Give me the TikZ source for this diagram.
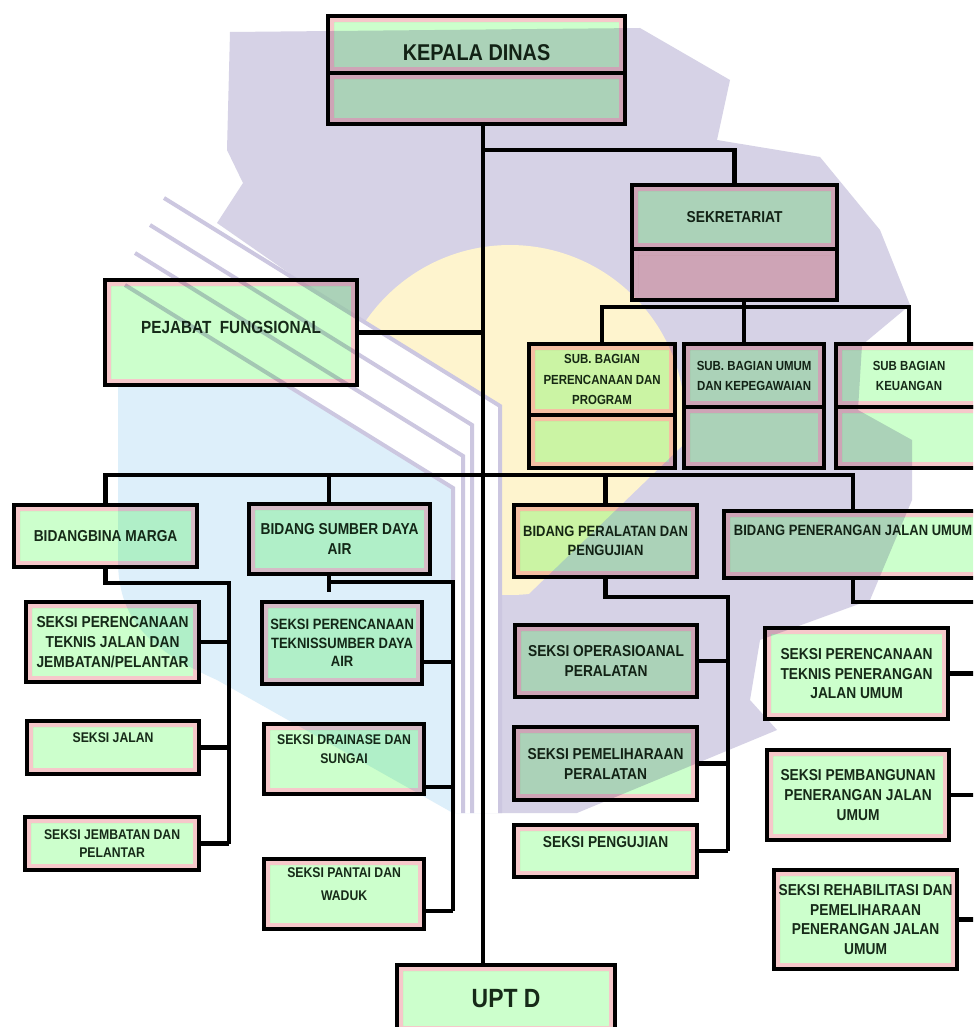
\documentclass[tikz,border=0pt]{standalone}
\usepackage{fontspec}
\setmainfont{Liberation Sans}[FakeStretch=0.87]
\usetikzlibrary{calc}

\definecolor{boxgreen}{HTML}{CCFFCC}
\definecolor{rimpink}{HTML}{F6C8CA}
\definecolor{textdark}{HTML}{1C2A1E}
\definecolor{wmlav}{HTML}{D6D2E6}
\definecolor{wmline}{HTML}{CCC7E0}
\definecolor{wmyel}{HTML}{FEF4CE}
\definecolor{wmblue}{HTML}{DDEFFA}

\tikzset{
  orgbox/.style={draw=black, line width=2.4pt, blend mode=multiply, anchor=north west,
    align=center, inner sep=1pt, text=textdark,
    font=\bfseries\fontsize{9}{11.3}\selectfont,
    path picture={
      \fill[rimpink, even odd rule]
        (path picture bounding box.south west) rectangle (path picture bounding box.north east)
        ([xshift=0.12cm,yshift=0.12cm]path picture bounding box.south west) rectangle
        ([xshift=-0.12cm,yshift=-0.12cm]path picture bounding box.north east);
      \fill[#1]
        ([xshift=0.12cm,yshift=0.12cm]path picture bounding box.south west) rectangle
        ([xshift=-0.12cm,yshift=-0.12cm]path picture bounding box.north east);
    }},
  orgbox/.default=boxgreen,
  subbox/.style={orgbox, font=\bfseries\fontsize{7.5}{11.5}\selectfont},
  smallbox/.style={orgbox, font=\bfseries\fontsize{8}{10.5}\selectfont},
  conn/.style={line width=2.6pt, draw=black},
  wmstroke/.style={wmline, line width=0.08cm}
}

\begin{document}
\begin{tikzpicture}[x=0.02cm, y=-0.02cm]
\useasboundingbox (0,0) rectangle (973,1027);
\clip (0,0) rectangle (973,1027);
\fill[white] (0,0) rectangle (973,1027);

% watermark behind the chart
\fill[wmlav] (230,32) -- (640,28) -- (730,80) -- (717,140) -- (820,157) -- (880,230)
  -- (910,305) -- (862,345) -- (858,410) -- (912,440) -- (912,500) -- (870,600)
  -- (760,640) -- (750,700) -- (777,730) -- (577,813) -- (480,813) -- (480,406)
  -- (217,223) -- (243,183) -- (227,150) -- cycle;
\begin{scope}
  \clip (0,0) -- (1000,0) -- (999,140) -- (419,700) -- (0,700) -- cycle;
  \fill[wmyel] (510,420) circle (3.5cm);
\end{scope}
\fill[wmblue] (118,383) -- (300,383) -- (480,495) -- (480,813) -- (453,813)
  -- (217,680) .. controls (150,650) and (118,620) .. (118,560) -- cycle;
\fill[white] (164,198) -- (500,406) -- (500,813) -- (453,813) -- (453,488) -- (125,285) -- cycle;
\draw[wmstroke] (164,198) -- (500,406) -- (500,813);
\draw[wmstroke] (150,225) -- (472,425) -- (472,813);
\draw[wmstroke] (135,253) -- (463,456) -- (463,813);
\draw[wmstroke] (125,285) -- (453,488) -- (453,813);

% top of the chart
\node[orgbox, minimum width=5.94cm, minimum height=1.14cm, text height=0.63cm, font=\bfseries\fontsize{13}{15}\selectfont] (kadis) at (326,14) {KEPALA DINAS};
\node[orgbox, minimum width=5.94cm, minimum height=1.02cm] (kadisb) at (326,71) {};
\node[orgbox, minimum width=4.10cm, minimum height=1.28cm] (sek) at (630,183) {SEKRETARIAT};
\node[orgbox=rimpink, minimum width=4.10cm, minimum height=1.02cm] (sekb) at (630,247) {};
\node[orgbox, minimum width=5.04cm, minimum height=2.10cm, text depth=0.2cm, font=\bfseries\fontsize{10}{12}\selectfont] (pej) at (103,278) {PEJABAT\ \ FUNGSIONAL};

% sub bagian
\node[subbox, minimum width=2.92cm, minimum height=1.42cm] (subp) at (527,342) {SUB. BAGIAN\\PERENCANAAN DAN\\PROGRAM};
\node[orgbox, minimum width=2.92cm, minimum height=1.06cm] (subpb) at (527,413) {};
\node[subbox, minimum width=2.80cm, minimum height=1.26cm] (subu) at (682,342) {SUB. BAGIAN UMUM\\DAN KEPEGAWAIAN};
\node[orgbox, minimum width=2.80cm, minimum height=1.22cm] (subub) at (682,405) {};
\node[subbox, minimum width=2.92cm, minimum height=1.26cm] (subk) at (834,342) {SUB BAGIAN\\KEUANGAN};
\node[orgbox, minimum width=2.92cm, minimum height=1.22cm] (subkb) at (834,405) {};

% bidang
\node[orgbox, minimum width=3.66cm, minimum height=1.24cm] (bm) at (12,503) {BIDANGBINA MARGA};
\node[orgbox, minimum width=3.62cm, minimum height=1.40cm] (sda) at (247,502) {BIDANG SUMBER DAYA\\AIR};
\node[orgbox, minimum width=3.66cm, minimum height=1.44cm, font=\bfseries\fontsize{8.5}{11}\selectfont] (bpp) at (512,503) {BIDANG PERALATAN DAN\\PENGUJIAN};
\node[orgbox, minimum width=5.16cm, minimum height=1.34cm, text depth=0.58cm, font=\bfseries\fontsize{8.5}{11}\selectfont] (pj) at (722,509) {BIDANG PENERANGAN JALAN UMUM};

% seksi bina marga
\node[orgbox, minimum width=3.46cm, minimum height=1.60cm] (s11) at (24,600) {SEKSI PERENCANAAN\\TEKNIS JALAN DAN\\JEMBATAN/PELANTAR};
\node[smallbox, minimum width=3.44cm, minimum height=1.06cm, text depth=0.42cm] (s12) at (25,719) {SEKSI JALAN};
\node[smallbox, minimum width=3.48cm, minimum height=1.06cm] (s13) at (23,815) {SEKSI JEMBATAN DAN\\PELANTAR};

% seksi sumber daya air
\node[orgbox, minimum width=3.20cm, minimum height=1.64cm, font=\bfseries\fontsize{8.5}{10.5}\selectfont] (s21) at (260,600) {SEKSI PERENCANAAN\\TEKNISSUMBER DAYA\\AIR};
\node[smallbox, minimum width=3.20cm, minimum height=1.40cm, text depth=0.4cm] (s22) at (262,722) {SEKSI DRAINASE DAN\\SUNGAI};
\node[smallbox, minimum width=3.20cm, minimum height=1.40cm, text depth=0.4cm] (s23) at (262,857) {SEKSI PANTAI DAN\\[3pt]WADUK};

% seksi peralatan
\node[orgbox, minimum width=3.64cm, minimum height=1.44cm] (s31) at (513,623) {SEKSI OPERASIOANAL\\PERALATAN};
\node[orgbox, minimum width=3.66cm, minimum height=1.46cm] (s32) at (512,725) {SEKSI PEMELIHARAAN\\PERALATAN};
\node[orgbox, minimum width=3.66cm, minimum height=1.04cm, text depth=0.36cm] (s33) at (512,823) {SEKSI PENGUJIAN};

% seksi penerangan
\node[orgbox, minimum width=3.66cm, minimum height=1.82cm] (s41) at (763,626) {SEKSI PERENCANAAN\\TEKNIS PENERANGAN\\JALAN UMUM};
\node[orgbox, minimum width=3.64cm, minimum height=1.80cm] (s42) at (765,748) {SEKSI PEMBANGUNAN\\PENERANGAN JALAN\\UMUM};
\node[orgbox, minimum width=3.66cm, minimum height=1.98cm] (s43) at (772,868) {SEKSI REHABILITASI DAN\\PEMELIHARAAN\\PENERANGAN JALAN\\UMUM};

\node[orgbox, minimum width=4.36cm, minimum height=1.34cm, font=\bfseries\fontsize{15}{18}\selectfont] (upt) at (395,963) {UPT D};

% lines between the boxes
\coordinate (trunk) at (483,122);
\draw[conn] (trunk) -- (trunk |- upt.north);
\coordinate (jsek) at (483,150);
\draw[conn] (jsek) -| (sek.north);
\coordinate (jsub) at (744,307);
\draw[conn] (sekb.south -| jsub) -- (jsub);
\draw[conn] (subp.north) |- (jsub) -| (subk.north);
\draw[conn] (jsub) -- (jsub |- subu.north);
\draw[conn] (pej.east) -- (pej.east -| trunk);

\coordinate (bus) at (483,475);
\draw[conn] (bm.north) |- (bus) -| (pj.north);
\coordinate (jsda) at (329,475);
\draw[conn] (jsda) -- (jsda |- sda.north);
\draw[conn] (bpp.north) -- (bpp.north |- bus);

\coordinate (v1) at (229,583);
\draw[conn] (bm.south) |- (v1) -- (v1 |- s13.east);
\draw[conn] (s11.east) -- (s11.east -| v1);
\draw[conn] (s12.east) -- (s12.east -| v1);
\draw[conn] (s13.east) -- (s13.east -| v1);

\coordinate (sdat) at (329,582);
\coordinate (v2) at (453,582);
\coordinate (s21c) at ($(s21.south east)+(0,-24)$);
\coordinate (s22c) at ($(s22.south east)+(0,-9)$);
\coordinate (s23c) at ($(s23.south east)+(0,-20)$);
\draw[conn] (sdat |- sda.south) -- ++(0,16);
\draw[conn] (sdat) -- (v2) -- (v2 |- s23c);
\draw[conn] (s21c) -- (s21c -| v2);
\draw[conn] (s22c) -- (s22c -| v2);
\draw[conn] (s23c) -- (s23c -| v2);

\coordinate (v3) at (728,597);
\draw[conn] (bpp.south) |- (v3) -- (v3 |- s33.east);
\draw[conn] (s31.east) -- (s31.east -| v3);
\draw[conn] (s32.east) -- (s32.east -| v3);
\draw[conn] (s33.east) -- (s33.east -| v3);

\coordinate (v4) at (990,602);
\draw[conn] (pj.south) |- (v4) -- (v4 |- s43.east);
\draw[conn] (s41.east) -- (s41.east -| v4);
\draw[conn] (s42.east) -- (s42.east -| v4);
\draw[conn] (s43.east) -- (s43.east -| v4);
\end{tikzpicture}
\end{document}
